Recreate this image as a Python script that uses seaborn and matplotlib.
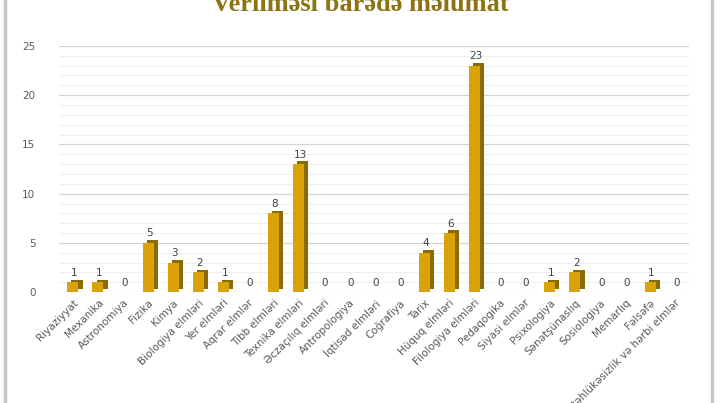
import pandas as pd
import matplotlib.pyplot as plt
import matplotlib.patheffects as pe
from matplotlib.patches import Rectangle
import seaborn as sns

categories = [
    "Riyaziyyat", "Mexanika", "Astronomiya", "Fizika", "Kimya",
    "Biologiya elmləri", "Yer elmləri", "Aqrar elmlər", "Tibb elmləri",
    "Texnika elmləri", "Əczaçılıq elmləri", "Antropologiya", "İqtisad elmləri",
    "Coğrafiya", "Tarix", "Hüquq elmləri", "Filologiya elmləri", "Pedaqogika",
    "Siyasi elmlər", "Psixologiya", "Sənətşünaslıq", "Sosiologiya", "Memarlıq",
    "Fəlsəfə", "Milli təhlükəsizlik və hərbi elmlər",
]
counts = [1, 1, 0, 5, 3, 2, 1, 0, 8, 13, 0, 0, 0, 0, 4, 6, 23, 0, 0, 1, 2, 0, 0, 1, 0]
y_ticks = [0, 5, 10, 15, 20, 25]

df = pd.DataFrame({"field": categories, "count": counts})

sns.set_style("white")
plt.rcParams["font.family"] = ["DejaVu Sans"]

fig = plt.figure(figsize=(7.2, 4.03), dpi=100)
ax = fig.add_axes([0.082, 0.275, 0.875, 0.611])

sns.barplot(data=df, x="field", y="count", color="#d9a307", width=0.44,
            saturation=1, linewidth=0, ax=ax, zorder=3)

# fake 3D depth with a dark offset shadow
for bar in ax.patches:
    bar.set_path_effects([
        pe.SimplePatchShadow(offset=(3, 2), shadow_rgbFace="#8a6b00", alpha=1),
        pe.Normal(),
    ])

for i, v in enumerate(counts):
    ax.text(i + 0.05, v + 0.45, str(v), ha="center", va="bottom",
            fontsize=7.5, color="#404040", zorder=4)

ax.set_ylim(0, 25)
ax.set_xlim(-0.55, len(categories) - 0.45)
ax.set_yticks(y_ticks)
ax.set_yticks(range(0, 26), minor=True)
ax.grid(axis="y", which="major", color="#d4d4d4", lw=0.9, zorder=0)
ax.grid(axis="y", which="minor", color="#eeeeee", lw=0.7, zorder=0)
ax.tick_params(axis="y", which="both", length=0, labelsize=7.5,
               labelcolor="#595959", pad=17)
ax.tick_params(axis="x", length=0, labelsize=7.5, labelcolor="#595959", pad=4)
for lab in ax.get_xticklabels():
    lab.set_rotation(45)
    lab.set_ha("right")
    lab.set_rotation_mode("anchor")
ax.set_xlabel("")
ax.set_ylabel("")
for s in ax.spines.values():
    s.set_visible(False)

fig.text(0.5, 0.972, "Verilməsi barədə məlumat", ha="center", va="baseline",
         fontsize=19, fontweight="bold", color="#8c7414",
         family=["Liberation Serif", "DejaVu Serif"])

fig.patches.append(Rectangle((0.007, -0.02), 0.982, 1.05, transform=fig.transFigure,
                             fill=False, edgecolor="#c4c4c4", lw=2.5))

plt.savefig("out.png", dpi=100)
